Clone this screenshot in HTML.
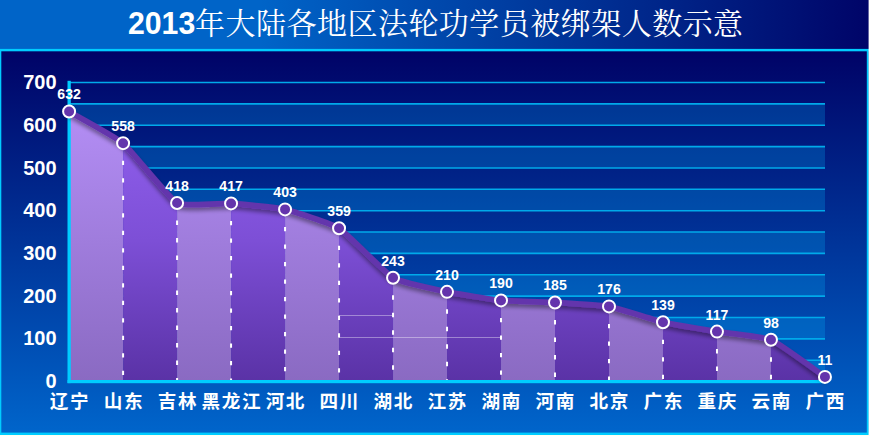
<!DOCTYPE html>
<html lang="zh"><head><meta charset="utf-8"><title>2013年大陆各地区法轮功学员被绑架人数示意</title>
<style>
html,body{margin:0;padding:0;background:#fff;}
body{width:870px;height:436px;overflow:hidden;position:relative;font-family:"Liberation Sans",sans-serif;}
#hdr{position:absolute;left:0;top:0;width:870px;height:49px;background:linear-gradient(to right,#0064c8 0%,#0064c8 30%,#000468 100%);}
#panel{position:absolute;left:0;top:49px;width:869px;height:386px;box-sizing:border-box;background:linear-gradient(to bottom,rgb(0,2,102) 0px,rgb(0,101,203) 384px);}
#chart{position:absolute;left:0;top:0;width:870px;height:436px;}
.num{font-family:"Liberation Sans",sans-serif;font-weight:bold;fill:#fff;}
</style></head><body>
<div id="hdr"></div><div id="panel"></div>
<svg id="chart" width="870" height="436" viewBox="0 0 870 436">
<defs>
<linearGradient id="gl" x1="0" y1="100" x2="0" y2="381" gradientUnits="userSpaceOnUse"><stop offset="0" stop-color="rgb(181,143,247)"/><stop offset="1" stop-color="#8a6ac2"/></linearGradient>
<linearGradient id="gd" x1="0" y1="100" x2="0" y2="381" gradientUnits="userSpaceOnUse"><stop offset="0" stop-color="rgb(147,98,241)"/><stop offset="0.5" stop-color="rgb(125,79,214)"/><stop offset="1" stop-color="#5a32a6"/></linearGradient>
<filter id="sh" x="-5%" y="-20%" width="110%" height="150%"><feGaussianBlur in="SourceAlpha" stdDeviation="2.2"/><feOffset dx="0" dy="3" result="b"/><feComponentTransfer><feFuncA type="linear" slope="0.42"/></feComponentTransfer><feMerge><feMergeNode/><feMergeNode in="SourceGraphic"/></feMerge></filter>
<clipPath id="ac"><path d="M69.1 111.56 C72.7 113.66 115.89 137.08 123.09 143.17 C130.29 149.27 169.88 198.98 177.08 202.99 C184.28 207.01 223.87 202.99 231.07 203.42 C238.27 203.85 277.86 207.75 285.06 209.4 C292.26 211.06 331.85 223.65 339.05 228.2 C346.25 232.76 385.84 273.53 393.04 277.77 C400.24 282.01 439.83 290.36 447.03 291.87 C454.23 293.38 493.82 299.7 501.02 300.42 C508.22 301.13 547.81 302.15 555.01 302.55 C562.21 302.95 601.8 305.09 609 306.4 C616.2 307.71 655.79 320.53 662.99 322.21 C670.19 323.89 709.78 330.44 716.98 331.61 C724.18 332.78 763.77 336.71 770.97 339.73 C778.17 342.75 821.36 374.42 824.96 376.9 L824.96 381.6 L69.1 381.6 Z"/></clipPath>
</defs>
<g fill="#00ccff">
<rect x="0" y="48.9" width="869" height="2.4"/>
<rect x="0" y="49" width="1.3" height="386"/>
<rect x="866.8" y="49" width="2" height="386"/>
<rect x="0" y="432.6" width="869" height="2.4"/>
</g>
<g>
<rect x="70" y="103.86" width="755" height="21.36" fill="rgb(0,185,255)" fill-opacity="0.23"/>
<rect x="70" y="146.59" width="755" height="21.36" fill="rgb(0,185,255)" fill-opacity="0.23"/>
<rect x="70" y="189.32" width="755" height="21.36" fill="rgb(0,185,255)" fill-opacity="0.23"/>
<rect x="70" y="232.05" width="755" height="21.36" fill="rgb(0,185,255)" fill-opacity="0.23"/>
<rect x="70" y="274.78" width="755" height="21.36" fill="rgb(0,185,255)" fill-opacity="0.23"/>
<rect x="70" y="317.51" width="755" height="21.36" fill="rgb(0,185,255)" fill-opacity="0.23"/>
<rect x="70" y="360.24" width="755" height="21.36" fill="rgb(0,185,255)" fill-opacity="0.23"/>
</g>
<g stroke="rgb(0,170,234)" stroke-width="1.6" fill="none">
<path d="M70 82.5 H825"/>
<path d="M70 103.86 H825"/>
<path d="M70 125.23 H825"/>
<path d="M70 146.59 H825"/>
<path d="M70 167.96 H825"/>
<path d="M70 189.32 H825"/>
<path d="M70 210.69 H825"/>
<path d="M70 232.05 H825"/>
<path d="M70 253.41 H825"/>
<path d="M70 274.78 H825"/>
<path d="M70 296.14 H825"/>
<path d="M70 317.51 H825"/>
<path d="M70 338.87 H825"/>
<path d="M70 360.24 H825"/>
</g>
<g clip-path="url(#ac)">
<rect x="69.1" y="100" width="53.99" height="282" fill="url(#gl)"/>
<rect x="123.09" y="100" width="53.99" height="282" fill="url(#gd)"/>
<rect x="177.08" y="100" width="53.99" height="282" fill="url(#gl)"/>
<rect x="231.07" y="100" width="53.99" height="282" fill="url(#gd)"/>
<rect x="285.06" y="100" width="53.99" height="282" fill="url(#gl)"/>
<rect x="339.05" y="100" width="53.99" height="282" fill="url(#gd)"/>
<rect x="393.04" y="100" width="53.99" height="282" fill="url(#gl)"/>
<rect x="447.03" y="100" width="53.99" height="282" fill="url(#gd)"/>
<rect x="501.02" y="100" width="53.99" height="282" fill="url(#gl)"/>
<rect x="555.01" y="100" width="53.99" height="282" fill="url(#gd)"/>
<rect x="609" y="100" width="53.99" height="282" fill="url(#gl)"/>
<rect x="662.99" y="100" width="53.99" height="282" fill="url(#gd)"/>
<rect x="716.98" y="100" width="53.99" height="282" fill="url(#gl)"/>
<rect x="770.97" y="100" width="53.99" height="282" fill="url(#gd)"/>
</g>
<g stroke="#fff" stroke-opacity="0.38" stroke-width="1"><path d="M339 315.5 H393"/><path d="M339 337.5 H500.5"/></g>
<g stroke="#fff" stroke-width="2" stroke-dasharray="4.4 13.1" fill="none">
<path d="M123.09 143.17 V380"/>
<path d="M177.08 202.99 V380"/>
<path d="M231.07 203.42 V380"/>
<path d="M285.06 209.4 V380"/>
<path d="M339.05 228.2 V380"/>
<path d="M393.04 277.77 V380"/>
<path d="M447.03 291.87 V380"/>
<path d="M501.02 300.42 V380"/>
<path d="M555.01 302.55 V380"/>
<path d="M609 306.4 V380"/>
<path d="M662.99 322.21 V380"/>
<path d="M716.98 331.61 V380"/>
<path d="M770.97 339.73 V380"/>
</g>
<g fill="#00ccff"><rect x="67.5" y="80.8" width="3.3" height="302.3"/><rect x="67.5" y="380" width="757.5" height="3.2"/></g>
<path d="M69.1 111.56 C72.7 113.66 115.89 137.08 123.09 143.17 C130.29 149.27 169.88 198.98 177.08 202.99 C184.28 207.01 223.87 202.99 231.07 203.42 C238.27 203.85 277.86 207.75 285.06 209.4 C292.26 211.06 331.85 223.65 339.05 228.2 C346.25 232.76 385.84 273.53 393.04 277.77 C400.24 282.01 439.83 290.36 447.03 291.87 C454.23 293.38 493.82 299.7 501.02 300.42 C508.22 301.13 547.81 302.15 555.01 302.55 C562.21 302.95 601.8 305.09 609 306.4 C616.2 307.71 655.79 320.53 662.99 322.21 C670.19 323.89 709.78 330.44 716.98 331.61 C724.18 332.78 763.77 336.71 770.97 339.73 C778.17 342.75 821.36 374.42 824.96 376.9" fill="none" stroke="#6434ac" stroke-width="5.7" stroke-linejoin="round" stroke-linecap="round" filter="url(#sh)"/>
<g fill="#6434ac" stroke="#fff" stroke-width="2">
<circle cx="69.1" cy="111.56" r="6"/>
<circle cx="123.09" cy="143.17" r="6"/>
<circle cx="177.08" cy="202.99" r="6"/>
<circle cx="231.07" cy="203.42" r="6"/>
<circle cx="285.06" cy="209.4" r="6"/>
<circle cx="339.05" cy="228.2" r="6"/>
<circle cx="393.04" cy="277.77" r="6"/>
<circle cx="447.03" cy="291.87" r="6"/>
<circle cx="501.02" cy="300.42" r="6"/>
<circle cx="555.01" cy="302.55" r="6"/>
<circle cx="609" cy="306.4" r="6"/>
<circle cx="662.99" cy="322.21" r="6"/>
<circle cx="716.98" cy="331.61" r="6"/>
<circle cx="770.97" cy="339.73" r="6"/>
<circle cx="824.96" cy="376.9" r="6"/>
</g>
<g class="num" font-size="15.5" text-anchor="middle">
<text transform="translate(69.1 99.46) scale(0.91 1)">632</text>
<text transform="translate(123.09 131.07) scale(0.91 1)">558</text>
<text transform="translate(177.08 190.89) scale(0.91 1)">418</text>
<text transform="translate(231.07 191.32) scale(0.91 1)">417</text>
<text transform="translate(285.06 197.3) scale(0.91 1)">403</text>
<text transform="translate(339.05 216.1) scale(0.91 1)">359</text>
<text transform="translate(393.04 265.67) scale(0.91 1)">243</text>
<text transform="translate(447.03 279.77) scale(0.91 1)">210</text>
<text transform="translate(501.02 288.32) scale(0.91 1)">190</text>
<text transform="translate(555.01 290.45) scale(0.91 1)">185</text>
<text transform="translate(609 294.3) scale(0.91 1)">176</text>
<text transform="translate(662.99 310.11) scale(0.91 1)">139</text>
<text transform="translate(716.98 319.51) scale(0.91 1)">117</text>
<text transform="translate(770.97 327.63) scale(0.91 1)">98</text>
<text transform="translate(824.96 364.8) scale(0.91 1)">11</text>
</g>
<g class="num" font-size="20" text-anchor="end">
<text x="56.6" y="388.2">0</text>
<text x="56.6" y="345.47">100</text>
<text x="56.6" y="302.74">200</text>
<text x="56.6" y="260.01">300</text>
<text x="56.6" y="217.29">400</text>
<text x="56.6" y="174.56">500</text>
<text x="56.6" y="131.83">600</text>
<text x="56.6" y="89.1">700</text>
</g>
<text class="num" transform="translate(128 34.3) scale(0.939 1)" font-size="32.2">2013</text>
<text x="195.1" y="34.2" font-size="30" textLength="548" lengthAdjust="spacing" fill="#fff" font-family='"Liberation Serif","Noto Serif CJK SC",serif'>年大陆各地区法轮功学员被绑架人数示意</text>
<g font-size="18.6" font-weight="bold" letter-spacing="1.65" text-anchor="start" fill="#fff" font-family='"Liberation Sans","Noto Sans CJK SC",sans-serif'>
<text x="49.67" y="408.4">辽宁</text>
<text x="103.67" y="408.4">山东</text>
<text x="157.65" y="408.4">吉林</text>
<text x="201.52" y="408.4">黑龙江</text>
<text x="265.63" y="408.4">河北</text>
<text x="319.62" y="408.4">四川</text>
<text x="373.61" y="408.4">湖北</text>
<text x="427.6" y="408.4">江苏</text>
<text x="481.59" y="408.4">湖南</text>
<text x="535.59" y="408.4">河南</text>
<text x="589.58" y="408.4">北京</text>
<text x="643.57" y="408.4">广东</text>
<text x="697.56" y="408.4">重庆</text>
<text x="751.55" y="408.4">云南</text>
<text x="805.54" y="408.4">广西</text>
</g>
<rect x="868.6" y="0" width="1.4" height="436" fill="#fff"/><rect x="0" y="435" width="870" height="1" fill="#fffff0"/>
</svg></body></html>
